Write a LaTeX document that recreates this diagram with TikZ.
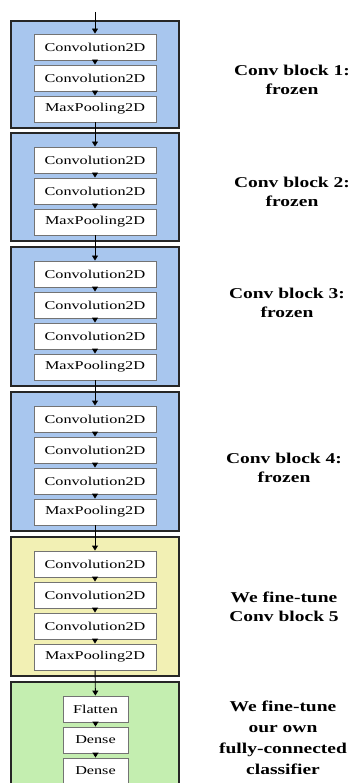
\documentclass[tikz,border=0pt]{standalone}
\usepackage{fontspec}
\usetikzlibrary{arrows.meta}
\newfontfamily\couchefont[FakeStretch=1.35]{Liberation Serif}
\newfontfamily\legendefont[FakeStretch=1.3]{Liberation Serif}
\definecolor{bleu}{RGB}{168,198,238}
\definecolor{jaune}{RGB}{242,240,180}
\definecolor{vert}{RGB}{196,238,176}
\tikzset{
  couche/.style={draw=black!55, line width=0.9pt, fill=white, minimum width=122pt,
    minimum height=26pt, inner sep=0pt, font=\couchefont\fontsize{12}{14}\selectfont},
  petite/.style={couche, minimum width=65pt},
  bloc/.style={draw=black!85, line width=1.4pt},
  fleche/.style={-{Triangle[length=5pt,width=6pt]}, line width=0.9pt},
  legende/.style={align=center, font=\legendefont\bfseries\fontsize{15}{19}\selectfont}
}
\begin{document}
\begin{tikzpicture}[x=1pt,y=-1pt]
\useasboundingbox (0,0) rectangle (352,783);
\clip (0,0) rectangle (352,783);
% Les blocs de convolution puis le classifieur
\draw[bloc,fill=bleu] (11,21) rectangle (179,128);
\draw[bloc,fill=bleu] (11,133) rectangle (179,241);
\draw[bloc,fill=bleu] (11,247) rectangle (179,386);
\draw[bloc,fill=bleu] (11,392) rectangle (179,531);
\draw[bloc,fill=jaune] (11,537) rectangle (179,676);
\draw[bloc,fill=vert] (11,682) rectangle (179,800);
\coordinate (entree) at (95,12);
\node[couche] (b1a) at (95,47) {Convolution2D};
\node[couche] (b1b) at (95,78) {Convolution2D};
\node[couche] (b1c) at (95,109) {MaxPooling2D};
\node[couche] (b2a) at (95,160) {Convolution2D};
\node[couche] (b2b) at (95,191) {Convolution2D};
\node[couche] (b2c) at (95,222) {MaxPooling2D};
\node[couche] (b3a) at (95,274) {Convolution2D};
\node[couche] (b3b) at (95,305) {Convolution2D};
\node[couche] (b3c) at (95,336) {Convolution2D};
\node[couche] (b3d) at (95,367) {MaxPooling2D};
\node[couche] (b4a) at (95,419) {Convolution2D};
\node[couche] (b4b) at (95,450) {Convolution2D};
\node[couche] (b4c) at (95,481) {Convolution2D};
\node[couche] (b4d) at (95,512) {MaxPooling2D};
\node[couche] (b5a) at (95,564) {Convolution2D};
\node[couche] (b5b) at (95,595) {Convolution2D};
\node[couche] (b5c) at (95,626) {Convolution2D};
\node[couche] (b5d) at (95,657) {MaxPooling2D};
\node[petite] (b6a) at (95.5,709) {Flatten};
\node[petite] (b6b) at (95.5,740) {Dense};
\node[petite] (b6c) at (95.5,771) {Dense};
\draw[fleche] (entree) -- (b1a);
\foreach \a/\b in {b1a/b1b,b1b/b1c,b1c/b2a,b2a/b2b,b2b/b2c,b2c/b3a,b3a/b3b,b3b/b3c,b3c/b3d,
  b3d/b4a,b4a/b4b,b4b/b4c,b4c/b4d,b4d/b5a,b5a/b5b,b5b/b5c,b5c/b5d,b5d/b6a,b6a/b6b,b6b/b6c}
  \draw[fleche] (\a) -- (\b);
\node[legende] (l1) at (292,80) {Conv block 1:\\frozen};
\node[legende] (l2) at (292,192) {Conv block 2:\\frozen};
\node[legende] (l3) at (287,303) {Conv block 3:\\frozen};
\node[legende] (l4) at (284,468) {Conv block 4:\\frozen};
\node[legende] (l5) at (284,607) {We fine-tune\\Conv block 5};
\node[legende,font=\legendefont\bfseries\fontsize{15}{21}\selectfont] (l6) at (283,738)
  {We fine-tune\\our own\\fully-connected\\classifier};
\end{tikzpicture}
\end{document}
